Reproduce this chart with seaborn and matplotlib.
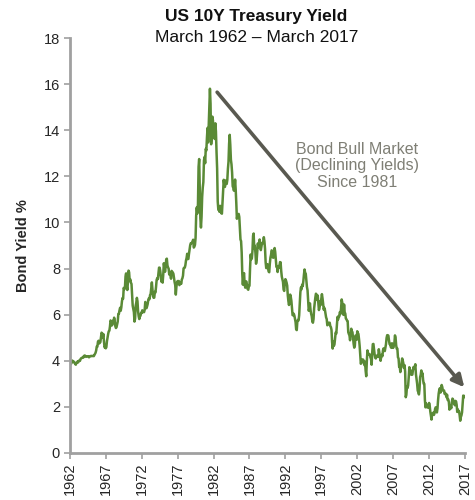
import numpy as np
import pandas as pd
import matplotlib
matplotlib.use("Agg")
import matplotlib.pyplot as plt
import seaborn as sns

# Monthly 10Y yields, March 1962 - March 2017
y1960s = [3.93, 3.84, 3.87, 3.91, 4.01, 3.98, 3.98, 3.93, 3.92, 3.86,
          3.83, 3.92, 3.93, 3.97, 3.93, 3.99, 4.02, 4.00, 4.08, 4.11, 4.12, 4.13,
          4.17, 4.15, 4.22, 4.23, 4.20, 4.17, 4.19, 4.19, 4.20, 4.19, 4.15, 4.18,
          4.19, 4.21, 4.21, 4.20, 4.21, 4.21, 4.20, 4.25, 4.29, 4.35, 4.45, 4.62,
          4.61, 4.83, 4.87, 4.75, 4.78, 4.81, 5.02, 5.22, 5.18, 5.01, 5.16, 4.84,
          4.58, 4.63, 4.54, 4.59, 4.85, 5.02, 5.16, 5.28, 5.30, 5.48, 5.75, 5.70,
          5.53, 5.56, 5.74, 5.64, 5.87, 5.72, 5.50, 5.42, 5.46, 5.58, 5.70, 6.03,
          6.04, 6.19, 6.30, 6.17, 6.32, 6.57, 6.72, 6.69, 7.16, 7.10, 7.14, 7.65]
y1970s = [7.79, 7.24, 7.07, 7.39, 7.91, 7.84, 7.46, 7.53, 7.39, 7.33, 6.84, 6.39,
          6.24, 6.11, 5.70, 5.83, 6.39, 6.52, 6.73, 6.58, 6.14, 5.93, 5.81, 5.93,
          5.95, 6.08, 6.07, 6.19, 6.13, 6.11, 6.11, 6.21, 6.55, 6.48, 6.28, 6.36,
          6.46, 6.64, 6.71, 6.67, 6.85, 6.90, 7.13, 7.40, 7.09, 6.79, 6.73, 6.74,
          6.99, 6.96, 7.21, 7.51, 7.58, 7.54, 7.81, 8.04, 8.04, 7.90, 7.68, 7.43,
          7.50, 7.39, 7.73, 8.23, 8.06, 7.86, 8.06, 8.40, 8.43, 8.14, 8.05, 8.00,
          7.74, 7.79, 7.73, 7.56, 7.90, 7.86, 7.83, 7.77, 7.59, 7.41, 7.29, 6.87,
          7.21, 7.39, 7.46, 7.37, 7.46, 7.28, 7.33, 7.40, 7.34, 7.52, 7.58, 7.69,
          8.01, 8.03, 8.04, 8.15, 8.35, 8.46, 8.64, 8.41, 8.42, 8.64, 8.81, 9.01,
          9.10, 9.10, 9.12, 9.18, 9.25, 8.91, 8.95, 9.03, 9.33, 10.30, 10.65, 10.39]
y1980s = [10.80, 12.41, 12.75, 11.47, 10.18, 9.78, 10.25, 11.10, 11.51, 11.75, 12.68, 12.84,
          12.57, 13.19, 13.12, 13.68, 14.10, 13.47, 14.28, 14.94, 15.80, 15.15, 13.39, 13.72,
          14.59, 14.43, 13.86, 13.87, 13.62, 14.30, 13.95, 13.06, 12.34, 10.91, 10.55, 10.54,
          10.46, 10.72, 10.51, 10.40, 10.38, 10.85, 11.38, 11.85, 11.65, 11.54, 11.69, 11.83,
          11.67, 11.84, 12.32, 12.63, 13.41, 13.80, 13.36, 12.72, 12.52, 12.16, 11.57, 11.50,
          11.38, 11.51, 11.86, 11.43, 10.85, 10.16, 10.31, 10.33, 10.37, 10.24, 9.78, 9.26,
          9.19, 8.70, 7.78, 7.30, 7.71, 7.80, 7.30, 7.17, 7.45, 7.43, 7.25, 7.11,
          7.08, 7.25, 7.25, 8.02, 8.61, 8.40, 8.45, 8.76, 9.42, 9.52, 8.86, 8.99,
          8.67, 8.21, 8.37, 8.72, 9.09, 8.92, 9.06, 9.26, 8.98, 8.80, 8.96, 9.11,
          9.09, 9.17, 9.36, 9.18, 8.86, 8.28, 8.02, 8.11, 8.19, 8.01, 7.87, 7.84]
y1990s = [8.21, 8.47, 8.59, 8.79, 8.76, 8.48, 8.47, 8.75, 8.89, 8.72, 8.39, 8.08,
          8.09, 7.85, 8.11, 8.04, 8.07, 8.28, 8.27, 7.90, 7.65, 7.53, 7.42, 7.09,
          7.03, 7.34, 7.54, 7.48, 7.39, 7.26, 6.84, 6.59, 6.42, 6.59, 6.87, 6.77,
          6.60, 6.26, 5.98, 5.97, 6.04, 5.96, 5.81, 5.68, 5.36, 5.33, 5.72, 5.77,
          5.75, 5.97, 6.48, 6.97, 7.18, 7.10, 7.30, 7.24, 7.46, 7.74, 7.96, 7.81,
          7.78, 7.47, 7.20, 7.06, 6.63, 6.17, 6.28, 6.49, 6.20, 6.04, 5.93, 5.71,
          5.65, 5.81, 6.27, 6.51, 6.74, 6.91, 6.87, 6.64, 6.83, 6.53, 6.20, 6.30,
          6.58, 6.42, 6.69, 6.89, 6.71, 6.49, 6.22, 6.30, 6.21, 6.03, 5.88, 5.81,
          5.54, 5.57, 5.65, 5.64, 5.65, 5.50, 5.46, 5.34, 4.81, 4.53, 4.83, 4.65,
          4.72, 5.00, 5.23, 5.18, 5.54, 5.90, 5.79, 5.94, 5.92, 6.11, 6.03, 6.28]
y2000s = [6.66, 6.52, 6.26, 5.99, 6.44, 6.10, 6.05, 5.83, 5.80, 5.74, 5.72, 5.24,
          5.16, 5.10, 4.89, 5.14, 5.39, 5.28, 5.24, 4.97, 4.73, 4.57, 4.65, 5.09,
          5.04, 4.91, 5.28, 5.21, 5.16, 4.93, 4.65, 4.26, 3.87, 3.94, 4.05, 4.03,
          4.05, 3.90, 3.81, 3.96, 3.57, 3.33, 3.98, 4.45, 4.27, 4.29, 4.30, 4.27,
          4.15, 4.08, 3.83, 4.35, 4.72, 4.73, 4.50, 4.28, 4.13, 4.10, 4.19, 4.23,
          4.22, 4.17, 4.50, 4.34, 4.14, 4.00, 4.18, 4.26, 4.20, 4.46, 4.54, 4.47,
          4.42, 4.57, 4.72, 4.99, 5.11, 5.11, 5.09, 4.88, 4.72, 4.73, 4.60, 4.56,
          4.76, 4.72, 4.56, 4.69, 4.75, 5.10, 5.00, 4.67, 4.52, 4.53, 4.15, 4.10,
          3.74, 3.74, 3.51, 3.68, 3.88, 4.10, 4.01, 3.89, 3.69, 3.81, 3.53, 2.42,
          2.52, 2.87, 2.82, 2.93, 3.29, 3.72, 3.56, 3.59, 3.40, 3.39, 3.40, 3.59]
y2010s = [3.73, 3.69, 3.73, 3.85, 3.42, 3.20, 3.01, 2.70, 2.65, 2.54, 2.76, 3.29,
          3.39, 3.58, 3.41, 3.46, 3.17, 3.00, 3.00, 2.30, 1.98, 2.15, 2.01, 1.98,
          1.97, 1.97, 2.17, 2.05, 1.80, 1.62, 1.45, 1.68, 1.72, 1.75, 1.65, 1.72,
          1.91, 1.98, 1.96, 1.76, 1.93, 2.30, 2.58, 2.74, 2.81, 2.62, 2.72, 2.95,
          2.86, 2.71, 2.72, 2.71, 2.56, 2.60, 2.54, 2.42, 2.53, 2.30, 2.33, 2.21,
          1.88, 1.98, 2.04, 1.94, 2.20, 2.36, 2.32, 2.17, 2.17, 2.07, 2.26, 2.24,
          2.09, 1.78, 1.89, 1.81, 1.81, 1.64, 1.40, 1.56, 1.63, 1.76, 2.14, 2.49,
          2.43, 2.42, 2.48]

tick_years = [1962, 1967, 1972, 1977, 1982, 1987, 1992, 1997, 2002, 2007, 2012, 2017]
y_ticks = [0, 2, 4, 6, 8, 10, 12, 14, 16, 18]

title = "US 10Y Treasury Yield"
subtitle = "March 1962 \u2013 March 2017"
note = "Bond Bull Market\n(Declining Yields)\nSince 1981"

yields = y1960s + y1970s + y1980s + y1990s + y2000s + y2010s
n = len(yields)
df = pd.DataFrame({"year": 1962 + np.arange(n) * 55.0 / (n - 1), "yield": yields})

sns.set_theme(style="white")
plt.rcParams["font.family"] = ["Liberation Sans", "DejaVu Sans"]

fig = plt.figure(figsize=(4.75, 5.0), dpi=100)
ax = fig.add_axes([0.147, 0.094, 0.832, 0.830])

sns.lineplot(data=df, x="year", y="yield", ax=ax, color="#5A8A36", linewidth=1.8)

ax.set_xlim(1962, 2017)
ax.set_ylim(0, 18)
ax.set_xticks(tick_years)
ax.set_xticklabels([str(t) for t in tick_years], rotation=90, fontsize=10.5, color="#262626")
ax.set_yticks(y_ticks)
ax.set_yticklabels([str(t) for t in y_ticks], fontsize=10.5, color="#262626")
ax.set_xlabel("")
ax.set_ylabel("Bond Yield %", fontsize=10.5, fontweight="bold", color="#262626", labelpad=10)

for s in ["top", "right"]:
    ax.spines[s].set_visible(False)
for s in ["left", "bottom"]:
    ax.spines[s].set_color("#A0A0A0")
    ax.spines[s].set_linewidth(2)
ax.tick_params(axis="both", which="both", direction="out", length=4, width=1.2,
               color="#A0A0A0", pad=3, left=True, bottom=True)

ax.annotate("", xy=(2016.9, 2.85), xytext=(1982.5, 15.65),
            arrowprops=dict(arrowstyle="-|>,head_length=0.6,head_width=0.3",
                            color="#595950", lw=2.6, shrinkA=0, shrinkB=0))

ax.text(2002.0, 12.45, note, ha="center", va="center", fontsize=11.5,
        color="#7F7F75", linespacing=1.1)

fig.text(0.54, 0.968, title, ha="center", va="center", fontsize=12.5, fontweight="bold", color="#111111")
fig.text(0.54, 0.925, subtitle, ha="center", va="center", fontsize=12.5, color="#111111")

fig.savefig("out.png", dpi=100, facecolor="white")
